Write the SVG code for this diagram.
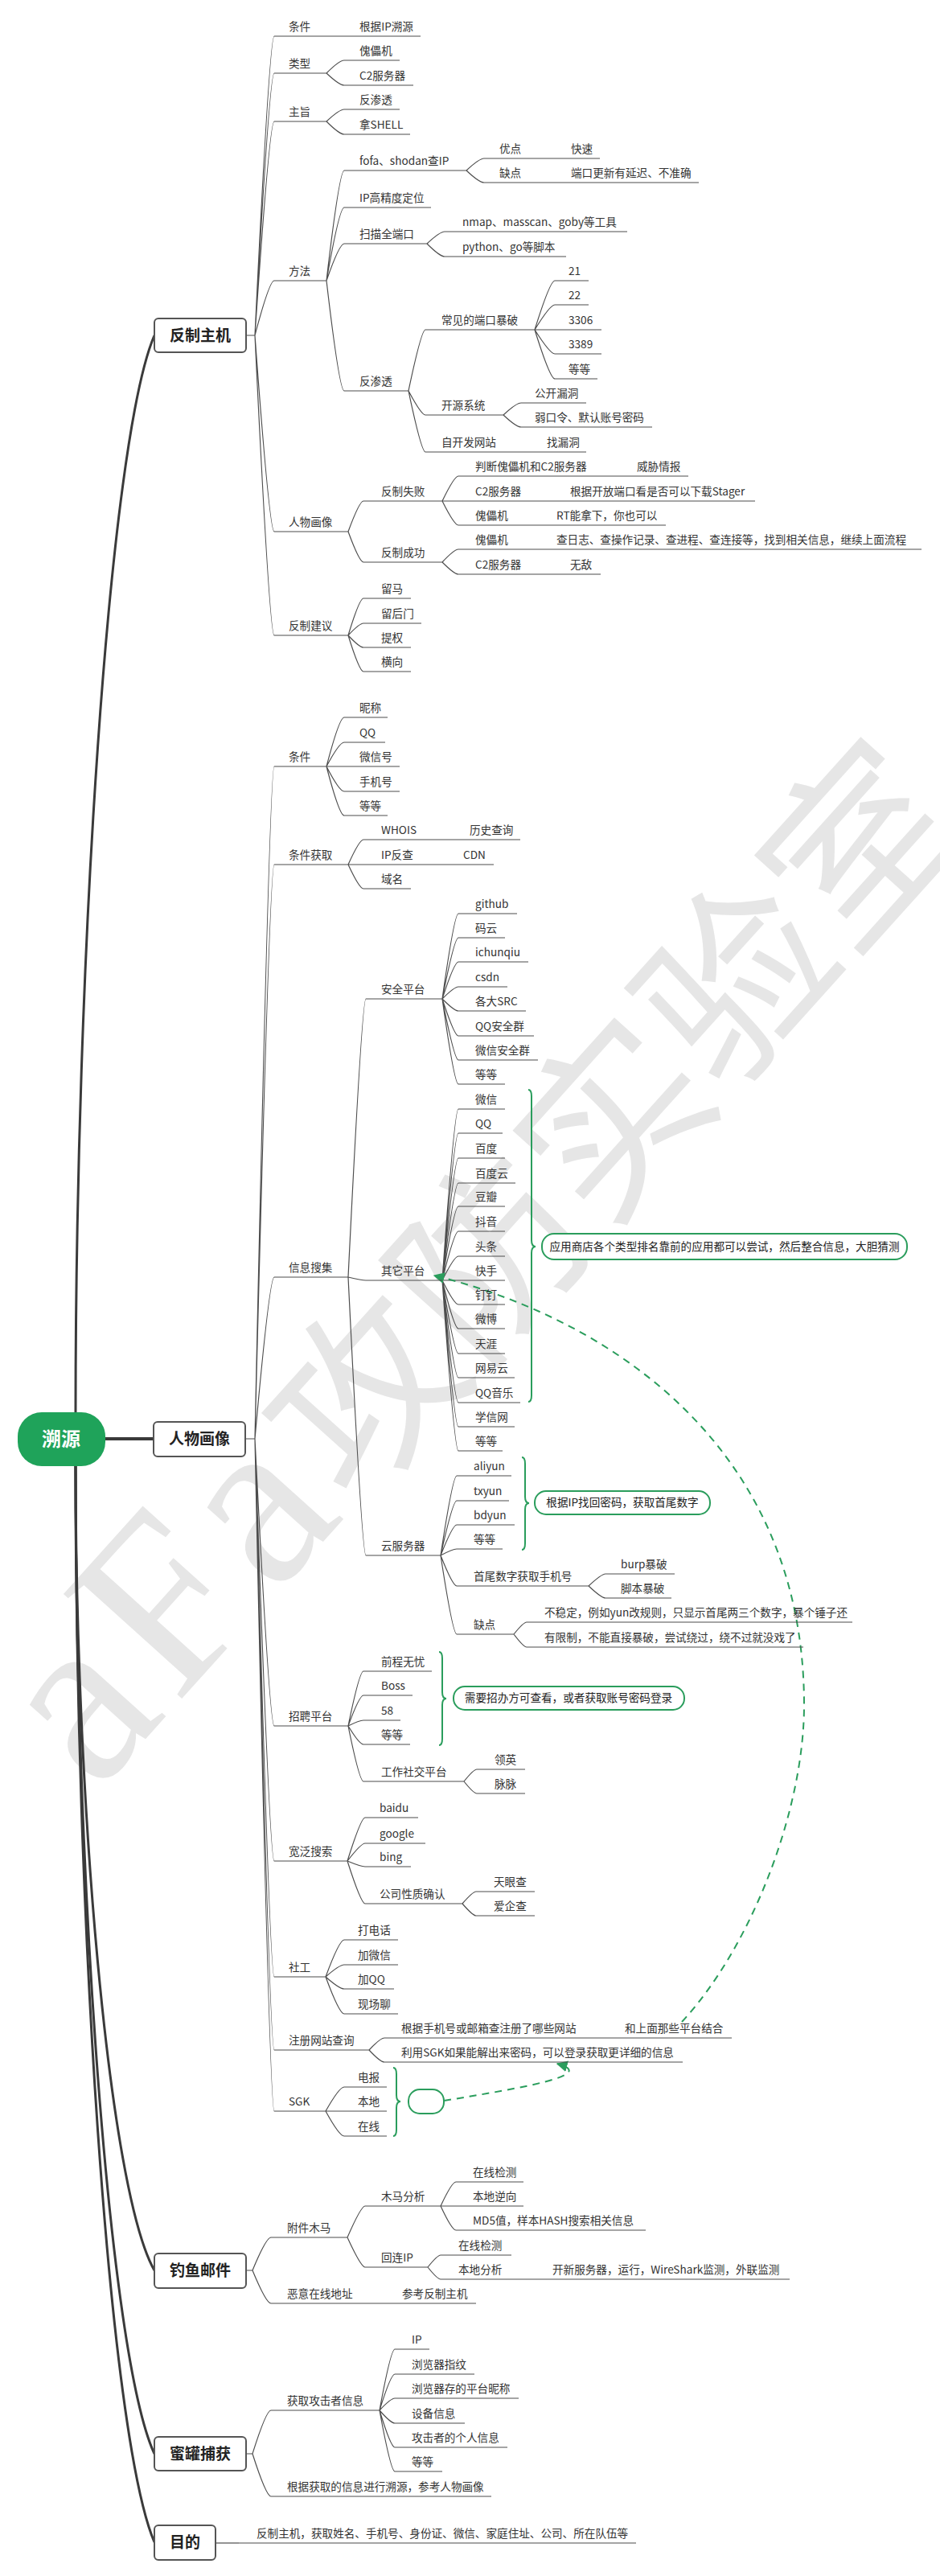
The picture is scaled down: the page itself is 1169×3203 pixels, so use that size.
<svg xmlns="http://www.w3.org/2000/svg" width="1169" height="3203" viewBox="0 0 1169 3203">
<defs>
<style>
.t{font-family:"Noto Sans CJK SC","Liberation Sans",sans-serif;font-size:13.6px;fill:#333}
.u{stroke:#4d4d4d;stroke-width:1.2;fill:none}
.c{stroke:#4d4d4d;stroke-width:1.2;fill:none}
.tr{stroke:#3a3a3a;stroke-width:3;fill:none}
.bx{fill:#fff;stroke:#555;stroke-width:2}
.bt{font-family:"Noto Sans CJK SC",sans-serif;font-size:19px;font-weight:bold;fill:#222;text-anchor:middle}
.g{stroke:#2a9d5c;stroke-width:2;fill:none}
.co{fill:#fff;stroke:#2a9d5c;stroke-width:2}
.ct{font-family:"Noto Sans CJK SC","Liberation Sans",sans-serif;font-size:13.6px;fill:#222;text-anchor:middle}
.d{stroke:#2a9d5c;stroke-width:2;fill:none;stroke-dasharray:9 7}
.wm{font-family:"Liberation Serif","Noto Sans CJK SC",serif;font-size:230px;fill:#e6e6e6}
</style>
<marker id="ar" viewBox="0 0 10 10" refX="9" refY="5" markerWidth="7" markerHeight="7" orient="auto"><path d="M0 0L10 5L0 10z" fill="#2a9d5c"/></marker>
</defs>
<rect width="1169" height="3203" fill="#fff"/>
<text class="wm" transform="translate(120 2230) rotate(-48)"><tspan font-size="300" letter-spacing="15">aFa</tspan>攻防实验室</text>

<g id="connectors">
<path class="tr" d="M94 1756C94 1200 135 550 192 417"/>
<path class="tr" d="M94 1823C94 2237 135 2723 192 2823"/>
<path class="tr" d="M94 1823C94 2331 135 2928 192 3051"/>
<path class="tr" d="M94 1823C94 2377 135 3027 192 3161"/>
<path class="tr" d="M131 1789H191" style="stroke-width:4"/>
<path class="c" d="M306 417H317M317 417Q335 45 341 45M317 417Q335 91 341 91M317 417Q335 151 341 151M317 417Q335 349 341 349M317 417Q335 661 341 661M317 417Q335 790 341 790"/>
<path class="c" d="M406 45H428M406 91Q422 75 428 75M406 91Q422 106 428 106M406 151Q422 136 428 136M406 151Q422 167 428 167"/>
<path class="c" d="M406 349Q422 212 428 212M406 349Q422 258 428 258M406 349Q422 303 428 303M406 349Q422 486 428 486"/>
<path class="c" d="M580 212Q596 197 602 197M580 212Q596 227 602 227M669 197H691M669 227H691M531 303Q547 288 553 288M531 303Q547 319 553 319"/>
<path class="c" d="M508 486Q524 410 529 410M508 486Q524 516 529 516M508 486Q524 562 529 562"/>
<path class="c" d="M665 410Q684 349 690 349M665 410Q684 379 690 379M665 410H690M665 410Q684 440 690 440M665 410Q684 471 690 471"/>
<path class="c" d="M626 516Q642 501 648 501M626 516Q642 531 648 531M639 562H661"/>
<path class="c" d="M433 661Q447 623 452 623M433 661Q447 699 452 699M550 623Q565 592 570 592M550 623H570M550 623Q565 653 570 653M751 592H773M668 623H690M651 653H673M550 699Q565 683 570 683M550 699Q565 714 570 714M651 683H673M668 714H690"/>
<path class="c" d="M433 790Q447 744 452 744M433 790Q447 775 452 775M433 790Q447 805 452 805M433 790Q447 835 452 835"/>

<path class="c" d="M305 1789H317M317 1789Q335 953 341 953M317 1789Q335 1075 341 1075M317 1789Q335 1588 341 1588M317 1789Q335 2146 341 2146M317 1789Q335 2314 341 2314M317 1789Q335 2458 341 2458M317 1789Q335 2549 341 2549M317 1789Q335 2625 341 2625"/>
<path class="c" d="M406 953Q422 892 428 892M406 953Q422 923 428 923M406 953H428M406 953Q422 984 428 984M406 953Q422 1014 428 1014"/>
<path class="c" d="M433 1075Q447 1044 452 1044M433 1075H452M433 1075Q447 1105 452 1105M543 1044H565M535 1075H557"/>
<path class="c" d="M433 1588Q450 1242 455 1242M433 1588Q450 1592 455 1592M433 1588Q450 1934 455 1934"/>
<path class="c" d="M550 1242Q565 1136 570 1136M550 1242Q565 1166 570 1166M550 1242Q565 1196 570 1196M550 1242Q565 1227 570 1227M550 1242Q565 1257 570 1257M550 1242Q565 1288 570 1288M550 1242Q565 1318 570 1318M550 1242Q565 1348 570 1348"/>
<path class="c" d="M550 1592Q565 1379 570 1379M550 1592Q565 1409 570 1409M550 1592Q565 1440 570 1440M550 1592Q565 1471 570 1471M550 1592Q565 1500 570 1500M550 1592Q565 1531 570 1531M550 1592Q565 1562 570 1562M550 1592H570M550 1592Q565 1622 570 1622M550 1592Q565 1652 570 1652M550 1592Q565 1683 570 1683M550 1592Q565 1713 570 1713M550 1592Q565 1744 570 1744M550 1592Q565 1774 570 1774M550 1592Q565 1804 570 1804"/>
<path class="c" d="M548 1934Q563 1835 568 1835M548 1934Q563 1866 568 1866M548 1934Q563 1896 568 1896M548 1934Q563 1926 568 1926M548 1934Q563 1972 568 1972M548 1934Q563 2032 568 2032"/>
<path class="c" d="M732 1972Q748 1957 753 1957M732 1972Q748 1987 753 1987M639 2032Q651 2017 655 2017M639 2032Q651 2048 655 2048"/>
<path class="c" d="M433 2146Q447 2078 452 2078M433 2146Q447 2108 452 2108M433 2146Q447 2139 452 2139M433 2146Q447 2169 452 2169M433 2146Q447 2215 452 2215M577 2215Q589 2200 593 2200M577 2215Q589 2230 593 2230"/>
<path class="c" d="M432 2314Q449 2260 454 2260M432 2314Q449 2292 454 2292M432 2314Q449 2321 454 2321M432 2314Q449 2367 454 2367M575 2367Q588 2352 592 2352M575 2367Q588 2382 592 2382"/>
<path class="c" d="M405 2458Q422 2412 428 2412M405 2458Q422 2443 428 2443M405 2458Q422 2473 428 2473M405 2458Q422 2504 428 2504"/>
<path class="c" d="M459 2549Q473 2534 478 2534M459 2549Q473 2564 478 2564M736 2534H758"/>
<path class="c" d="M405 2625Q422 2595 428 2595M405 2625H428M405 2625Q422 2656 428 2656"/>

<path class="c" d="M306 2823H314M314 2823Q331 2782 337 2782M314 2823Q331 2864 337 2864M432 2782Q449 2743 454 2743M432 2782Q449 2819 454 2819"/>
<path class="c" d="M548 2743Q562 2713 567 2713M548 2743H567M548 2743Q562 2773 567 2773M532 2819Q544 2804 548 2804M532 2819Q544 2834 548 2834M646 2834H668M459 2864H481"/>
<path class="c" d="M306 3051H314M314 3051Q331 2997 337 2997M314 3051Q331 3104 337 3104"/>
<path class="c" d="M472 2997Q486 2921 491 2921M472 2997Q486 2952 491 2952M472 2997Q486 2982 491 2982M472 2997Q486 3013 491 3013M472 2997Q486 3043 491 3043M472 2997Q486 3073 491 3073"/>
<path class="c" d="M268 3162H297"/>

<path class="g" d="M657 1355Q661 1355 661 1363V1542Q661 1550 666 1550Q661 1550 661 1558V1735Q661 1743 657 1743"/>
<path class="g" d="M649 1812Q653 1812 653 1820V1861Q653 1869 658 1869Q653 1869 653 1877V1919Q653 1927 649 1927"/>
<path class="g" d="M546 2054Q550 2054 550 2062V2104Q550 2112 555 2112Q550 2112 550 2120V2162Q550 2170 546 2170"/>
<path class="g" d="M489 2571Q493 2571 493 2579V2605Q493 2613 498 2613Q493 2613 493 2621V2648Q493 2656 489 2656"/>
<path class="d" marker-end="url(#ar)" d="M848 2514C935 2420 1000 2250 1000 2120C1000 1800 760 1640 540 1586"/>
<path class="d" marker-end="url(#ar)" d="M552 2612C650 2596 745 2580 693 2566"/>
</g>

<g id="root"><rect x="22" y="1756" width="109" height="67" rx="30" fill="#1fa35a"/><text x="76" y="1798" font-family="Noto Sans CJK SC,sans-serif" font-size="24" font-weight="bold" fill="#fff" text-anchor="middle">溯源</text></g>

<g id="fzzj"><rect class="bx" x="192" y="396" width="114" height="42" rx="5"/><text class="bt" x="249" y="424">反制主机</text></g>
<g id="a1"><text class="t" x="359" y="38">条件</text><path class="u" d="M341 45H406"/></g>
<g id="a1a"><text class="t" x="447" y="38">根据IP溯源</text><path class="u" d="M428 45H523"/></g>
<g id="a2"><text class="t" x="359" y="84">类型</text><path class="u" d="M341 91H406"/></g>
<g id="a2a"><text class="t" x="447" y="68">傀儡机</text><path class="u" d="M428 75H497"/></g>
<g id="a2b"><text class="t" x="447" y="99">C2服务器</text><path class="u" d="M428 106H514"/></g>
<g id="a3"><text class="t" x="359" y="144">主旨</text><path class="u" d="M341 151H406"/></g>
<g id="a3a"><text class="t" x="447" y="129">反渗透</text><path class="u" d="M428 136H497"/></g>
<g id="a3b"><text class="t" x="447" y="160">拿SHELL</text><path class="u" d="M428 167H510"/></g>
<g id="a4"><text class="t" x="359" y="342">方法</text><path class="u" d="M341 349H406"/></g>
<g id="a4a"><text class="t" x="447" y="205">fofa、shodan查IP</text><path class="u" d="M428 212H580"/></g>
<g id="a4a1"><text class="t" x="621" y="190">优点</text><path class="u" d="M602 197H669"/></g>
<g id="a4a1v"><text class="t" x="710" y="190">快速</text><path class="u" d="M691 197H746"/></g>
<g id="a4a2"><text class="t" x="621" y="220">缺点</text><path class="u" d="M602 227H669"/></g>
<g id="a4a2v"><text class="t" x="710" y="220">端口更新有延迟、不准确</text><path class="u" d="M691 227H869"/></g>
<g id="a4b"><text class="t" x="447" y="251">IP高精度定位</text><path class="u" d="M428 258H536"/></g>
<g id="a4c"><text class="t" x="447" y="296">扫描全端口</text><path class="u" d="M428 303H531"/></g>
<g id="a4c1"><text class="t" x="575" y="281">nmap、masscan、goby等工具</text><path class="u" d="M553 288H780"/></g>
<g id="a4c2"><text class="t" x="575" y="312">python、go等脚本</text><path class="u" d="M553 319H704"/></g>
<g id="a4d"><text class="t" x="447" y="479">反渗透</text><path class="u" d="M428 486H508"/></g>
<g id="a4d1"><text class="t" x="549" y="403">常见的端口暴破</text><path class="u" d="M529 410H665"/></g>
<g id="p21"><text class="t" x="707" y="342">21</text><path class="u" d="M690 349H732"/></g>
<g id="p22"><text class="t" x="707" y="372">22</text><path class="u" d="M690 379H732"/></g>
<g id="p3306"><text class="t" x="707" y="403">3306</text><path class="u" d="M690 410H748"/></g>
<g id="p3389"><text class="t" x="707" y="433">3389</text><path class="u" d="M690 440H748"/></g>
<g id="pdd"><text class="t" x="707" y="464">等等</text><path class="u" d="M690 471H743"/></g>
<g id="a4d2"><text class="t" x="549" y="509">开源系统</text><path class="u" d="M529 516H626"/></g>
<g id="a4d2a"><text class="t" x="665" y="494">公开漏洞</text><path class="u" d="M648 501H729"/></g>
<g id="a4d2b"><text class="t" x="665" y="524">弱口令、默认账号密码</text><path class="u" d="M648 531H811"/></g>
<g id="a4d3"><text class="t" x="549" y="555">自开发网站</text><path class="u" d="M529 562H639"/></g>
<g id="a4d3a"><text class="t" x="680" y="555">找漏洞</text><path class="u" d="M661 562H729"/></g>
<g id="a5"><text class="t" x="359" y="654">人物画像</text><path class="u" d="M341 661H433"/></g>
<g id="a5a"><text class="t" x="474" y="616">反制失败</text><path class="u" d="M452 623H550"/></g>
<g id="a5a1"><text class="t" x="591" y="585">判断傀儡机和C2服务器</text><path class="u" d="M570 592H751"/></g>
<g id="a5a1v"><text class="t" x="792" y="585">威胁情报</text><path class="u" d="M773 592H856"/></g>
<g id="a5a2"><text class="t" x="591" y="616">C2服务器</text><path class="u" d="M570 623H668"/></g>
<g id="a5a2v"><text class="t" x="709" y="616">根据开放端口看是否可以下载Stager</text><path class="u" d="M690 623H939"/></g>
<g id="a5a3"><text class="t" x="591" y="646">傀儡机</text><path class="u" d="M570 653H651"/></g>
<g id="a5a3v"><text class="t" x="692" y="646">RT能拿下，你也可以</text><path class="u" d="M673 653H828"/></g>
<g id="a5b"><text class="t" x="474" y="692">反制成功</text><path class="u" d="M452 699H550"/></g>
<g id="a5b1"><text class="t" x="591" y="676">傀儡机</text><path class="u" d="M570 683H651"/></g>
<g id="a5b1v"><text class="t" x="692" y="676">查日志、查操作记录、查进程、查连接等，找到相关信息，继续上面流程</text><path class="u" d="M673 683H1146"/></g>
<g id="a5b2"><text class="t" x="591" y="707">C2服务器</text><path class="u" d="M570 714H668"/></g>
<g id="a5b2v"><text class="t" x="709" y="707">无敌</text><path class="u" d="M690 714H747"/></g>
<g id="a6"><text class="t" x="359" y="783">反制建议</text><path class="u" d="M341 790H433"/></g>
<g id="a6a"><text class="t" x="474" y="737">留马</text><path class="u" d="M452 744H511"/></g>
<g id="a6b"><text class="t" x="474" y="768">留后门</text><path class="u" d="M452 775H524"/></g>
<g id="a6c"><text class="t" x="474" y="798">提权</text><path class="u" d="M452 805H511"/></g>
<g id="a6d"><text class="t" x="474" y="828">横向</text><path class="u" d="M452 835H511"/></g>

<g id="rwhx"><rect class="bx" x="191" y="1768" width="114" height="43" rx="5"/><text class="bt" x="248" y="1796">人物画像</text></g>
<g id="b1"><text class="t" x="359" y="946">条件</text><path class="u" d="M341 953H406"/></g>
<g id="b1a"><text class="t" x="447" y="885">昵称</text><path class="u" d="M428 892H482"/></g>
<g id="b1b"><text class="t" x="447" y="916">QQ</text><path class="u" d="M428 923H479"/></g>
<g id="b1c"><text class="t" x="447" y="946">微信号</text><path class="u" d="M428 953H497"/></g>
<g id="b1d"><text class="t" x="447" y="977">手机号</text><path class="u" d="M428 984H497"/></g>
<g id="b1e"><text class="t" x="447" y="1007">等等</text><path class="u" d="M428 1014H482"/></g>
<g id="b2"><text class="t" x="359" y="1068">条件获取</text><path class="u" d="M341 1075H433"/></g>
<g id="b2a"><text class="t" x="474" y="1037">WHOIS</text><path class="u" d="M452 1044H543"/></g>
<g id="b2av"><text class="t" x="584" y="1037">历史查询</text><path class="u" d="M565 1044H647"/></g>
<g id="b2b"><text class="t" x="474" y="1068">IP反查</text><path class="u" d="M452 1075H535"/></g>
<g id="b2bv"><text class="t" x="576" y="1068">CDN</text><path class="u" d="M557 1075H614"/></g>
<g id="b2c"><text class="t" x="474" y="1098">域名</text><path class="u" d="M452 1105H511"/></g>
<g id="b3"><text class="t" x="359" y="1581">信息搜集</text><path class="u" d="M341 1588H433"/></g>
<g id="b3a"><text class="t" x="474" y="1235">安全平台</text><path class="u" d="M455 1242H550"/></g>
<g id="b3a1"><text class="t" x="591" y="1129">github</text><path class="u" d="M570 1136H643"/></g>
<g id="b3a2"><text class="t" x="591" y="1159">码云</text><path class="u" d="M570 1166H628"/></g>
<g id="b3a3"><text class="t" x="591" y="1189">ichunqiu</text><path class="u" d="M570 1196H657"/></g>
<g id="b3a4"><text class="t" x="591" y="1220">csdn</text><path class="u" d="M570 1227H631"/></g>
<g id="b3a5"><text class="t" x="591" y="1250">各大SRC</text><path class="u" d="M570 1257H654"/></g>
<g id="b3a6"><text class="t" x="591" y="1281">QQ安全群</text><path class="u" d="M570 1288H664"/></g>
<g id="b3a7"><text class="t" x="591" y="1311">微信安全群</text><path class="u" d="M570 1318H669"/></g>
<g id="b3a8"><text class="t" x="591" y="1341">等等</text><path class="u" d="M570 1348H628"/></g>
<g id="b3b"><text class="t" x="474" y="1585">其它平台</text><path class="u" d="M455 1592H550"/></g>
<g id="b3b1"><text class="t" x="591" y="1372">微信</text><path class="u" d="M570 1379H628"/></g>
<g id="b3b2"><text class="t" x="591" y="1402">QQ</text><path class="u" d="M570 1409H625"/></g>
<g id="b3b3"><text class="t" x="591" y="1433">百度</text><path class="u" d="M570 1440H628"/></g>
<g id="b3b4"><text class="t" x="591" y="1464">百度云</text><path class="u" d="M570 1471H641"/></g>
<g id="b3b5"><text class="t" x="591" y="1493">豆瓣</text><path class="u" d="M570 1500H628"/></g>
<g id="b3b6"><text class="t" x="591" y="1524">抖音</text><path class="u" d="M570 1531H628"/></g>
<g id="b3b7"><text class="t" x="591" y="1555">头条</text><path class="u" d="M570 1562H628"/></g>
<g id="b3b8"><text class="t" x="591" y="1585">快手</text><path class="u" d="M570 1592H628"/></g>
<g id="b3b9"><text class="t" x="591" y="1615">钉钉</text><path class="u" d="M570 1622H628"/></g>
<g id="b3b10"><text class="t" x="591" y="1645">微博</text><path class="u" d="M570 1652H628"/></g>
<g id="b3b11"><text class="t" x="591" y="1676">天涯</text><path class="u" d="M570 1683H628"/></g>
<g id="b3b12"><text class="t" x="591" y="1706">网易云</text><path class="u" d="M570 1713H640"/></g>
<g id="b3b13"><text class="t" x="591" y="1737">QQ音乐</text><path class="u" d="M570 1744H647"/></g>
<g id="b3b14"><text class="t" x="591" y="1767">学信网</text><path class="u" d="M570 1774H640"/></g>
<g id="b3b15"><text class="t" x="591" y="1797">等等</text><path class="u" d="M570 1804H625"/></g>
<g id="note1"><rect class="co" x="674" y="1534" width="454" height="32" rx="15"/><text class="ct" x="901" y="1555">应用商店各个类型排名靠前的应用都可以尝试，然后整合信息，大胆猜测</text></g>
<g id="b3c"><text class="t" x="474" y="1927">云服务器</text><path class="u" d="M455 1934H548"/></g>
<g id="b3c1"><text class="t" x="589" y="1828">aliyun</text><path class="u" d="M568 1835H636"/></g>
<g id="b3c2"><text class="t" x="589" y="1859">txyun</text><path class="u" d="M568 1866H633"/></g>
<g id="b3c3"><text class="t" x="589" y="1889">bdyun</text><path class="u" d="M568 1896H640"/></g>
<g id="b3c4"><text class="t" x="589" y="1919">等等</text><path class="u" d="M568 1926H625"/></g>
<g id="note2"><rect class="co" x="665" y="1854" width="218" height="29" rx="14"/><text class="ct" x="774" y="1873">根据IP找回密码，获取首尾数字</text></g>
<g id="b3c5"><text class="t" x="589" y="1965">首尾数字获取手机号</text><path class="u" d="M568 1972H732"/></g>
<g id="b3c5a"><text class="t" x="772" y="1950">burp暴破</text><path class="u" d="M753 1957H839"/></g>
<g id="b3c5b"><text class="t" x="772" y="1980">脚本暴破</text><path class="u" d="M753 1987H835"/></g>
<g id="b3c6"><text class="t" x="589" y="2025">缺点</text><path class="u" d="M568 2032H639"/></g>
<g id="b3c6a"><text class="t" x="677" y="2010">不稳定，例如yun改规则，只显示首尾两三个数字，暴个锤子还</text><path class="u" d="M655 2017H1060"/></g>
<g id="b3c6b"><text class="t" x="677" y="2041">有限制，不能直接暴破，尝试绕过，绕不过就没戏了</text><path class="u" d="M655 2048H999"/></g>
<g id="b4"><text class="t" x="359" y="2139">招聘平台</text><path class="u" d="M341 2146H433"/></g>
<g id="b4a"><text class="t" x="474" y="2071">前程无忧</text><path class="u" d="M452 2078H537"/></g>
<g id="b4b"><text class="t" x="474" y="2101">Boss</text><path class="u" d="M452 2108H513"/></g>
<g id="b4c"><text class="t" x="474" y="2132">58</text><path class="u" d="M452 2139H498"/></g>
<g id="b4d"><text class="t" x="474" y="2162">等等</text><path class="u" d="M452 2169H510"/></g>
<g id="note3"><rect class="co" x="564" y="2097" width="287" height="29" rx="14"/><text class="ct" x="707" y="2116">需要招办方可查看，或者获取账号密码登录</text></g>
<g id="b4e"><text class="t" x="474" y="2208">工作社交平台</text><path class="u" d="M452 2215H577"/></g>
<g id="b4e1"><text class="t" x="615" y="2193">领英</text><path class="u" d="M593 2200H653"/></g>
<g id="b4e2"><text class="t" x="615" y="2223">脉脉</text><path class="u" d="M593 2230H653"/></g>
<g id="b5"><text class="t" x="359" y="2307">宽泛搜索</text><path class="u" d="M341 2314H432"/></g>
<g id="b5a"><text class="t" x="472" y="2253">baidu</text><path class="u" d="M454 2260H520"/></g>
<g id="b5b"><text class="t" x="472" y="2285">google</text><path class="u" d="M454 2292H529"/></g>
<g id="b5c"><text class="t" x="472" y="2314">bing</text><path class="u" d="M454 2321H511"/></g>
<g id="b5d"><text class="t" x="472" y="2360">公司性质确认</text><path class="u" d="M454 2367H575"/></g>
<g id="b5d1"><text class="t" x="614" y="2345">天眼查</text><path class="u" d="M592 2352H665"/></g>
<g id="b5d2"><text class="t" x="614" y="2375">爱企查</text><path class="u" d="M592 2382H665"/></g>
<g id="b6"><text class="t" x="359" y="2451">社工</text><path class="u" d="M341 2458H405"/></g>
<g id="b6a"><text class="t" x="445" y="2405">打电话</text><path class="u" d="M428 2412H495"/></g>
<g id="b6b"><text class="t" x="445" y="2436">加微信</text><path class="u" d="M428 2443H495"/></g>
<g id="b6c"><text class="t" x="445" y="2466">加QQ</text><path class="u" d="M428 2473H490"/></g>
<g id="b6d"><text class="t" x="445" y="2497">现场聊</text><path class="u" d="M428 2504H495"/></g>
<g id="b7"><text class="t" x="359" y="2542">注册网站查询</text><path class="u" d="M341 2549H459"/></g>
<g id="b7a"><text class="t" x="499" y="2527">根据手机号或邮箱查注册了哪些网站</text><path class="u" d="M478 2534H736"/></g>
<g id="b7av"><text class="t" x="777" y="2527">和上面那些平台结合</text><path class="u" d="M758 2534H910"/></g>
<g id="b7b"><text class="t" x="499" y="2557">利用SGK如果能解出来密码，可以登录获取更详细的信息</text><path class="u" d="M478 2564H849"/></g>
<g id="b8"><text class="t" x="359" y="2618">SGK</text><path class="u" d="M341 2625H405"/></g>
<g id="b8a"><text class="t" x="445" y="2588">电报</text><path class="u" d="M428 2595H481"/></g>
<g id="b8b"><text class="t" x="445" y="2618">本地</text><path class="u" d="M428 2625H481"/></g>
<g id="b8c"><text class="t" x="445" y="2649">在线</text><path class="u" d="M428 2656H481"/></g>
<g id="note4"><rect class="co" x="508" y="2598" width="44" height="30" rx="14"/></g>

<g id="dyyj"><rect class="bx" x="192" y="2802" width="114" height="43" rx="5"/><text class="bt" x="249" y="2830">钓鱼邮件</text></g>
<g id="c1"><text class="t" x="357" y="2775">附件木马</text><path class="u" d="M337 2782H432"/></g>
<g id="c1a"><text class="t" x="474" y="2736">木马分析</text><path class="u" d="M454 2743H548"/></g>
<g id="c1a1"><text class="t" x="588" y="2706">在线检测</text><path class="u" d="M567 2713H651"/></g>
<g id="c1a2"><text class="t" x="588" y="2736">本地逆向</text><path class="u" d="M567 2743H651"/></g>
<g id="c1a3"><text class="t" x="588" y="2766">MD5值，样本HASH搜索相关信息</text><path class="u" d="M567 2773H803"/></g>
<g id="c1b"><text class="t" x="474" y="2812">回连IP</text><path class="u" d="M454 2819H532"/></g>
<g id="c1b1"><text class="t" x="570" y="2797">在线检测</text><path class="u" d="M548 2804H636"/></g>
<g id="c1b2"><text class="t" x="570" y="2827">本地分析</text><path class="u" d="M548 2834H646"/></g>
<g id="c1b2v"><text class="t" x="687" y="2827">开新服务器，运行，WireShark监测，外联监测</text><path class="u" d="M668 2834H982"/></g>
<g id="c2"><text class="t" x="357" y="2857">恶意在线地址</text><path class="u" d="M337 2864H459"/></g>
<g id="c2v"><text class="t" x="500" y="2857">参考反制主机</text><path class="u" d="M481 2864H592"/></g>

<g id="mgbh"><rect class="bx" x="192" y="3030" width="114" height="42" rx="5"/><text class="bt" x="249" y="3058">蜜罐捕获</text></g>
<g id="d1"><text class="t" x="357" y="2990">获取攻击者信息</text><path class="u" d="M337 2997H472"/></g>
<g id="d1a"><text class="t" x="512" y="2914">IP</text><path class="u" d="M491 2921H534"/></g>
<g id="d1b"><text class="t" x="512" y="2945">浏览器指纹</text><path class="u" d="M491 2952H590"/></g>
<g id="d1c"><text class="t" x="512" y="2975">浏览器存的平台昵称</text><path class="u" d="M491 2982H645"/></g>
<g id="d1d"><text class="t" x="512" y="3006">设备信息</text><path class="u" d="M491 3013H578"/></g>
<g id="d1e"><text class="t" x="512" y="3036">攻击者的个人信息</text><path class="u" d="M491 3043H631"/></g>
<g id="d1f"><text class="t" x="512" y="3066">等等</text><path class="u" d="M491 3073H550"/></g>
<g id="d2"><text class="t" x="357" y="3097">根据获取的信息进行溯源，参考人物画像</text><path class="u" d="M337 3104H611"/></g>

<g id="md"><rect class="bx" x="192" y="3140" width="76" height="43" rx="5"/><text class="bt" x="230" y="3168">目的</text></g>
<g id="e1"><text class="t" x="319" y="3155">反制主机，获取姓名、手机号、身份证、微信、家庭住址、公司、所在队伍等</text><path class="u" d="M297 3162H791"/></g>
</svg>
